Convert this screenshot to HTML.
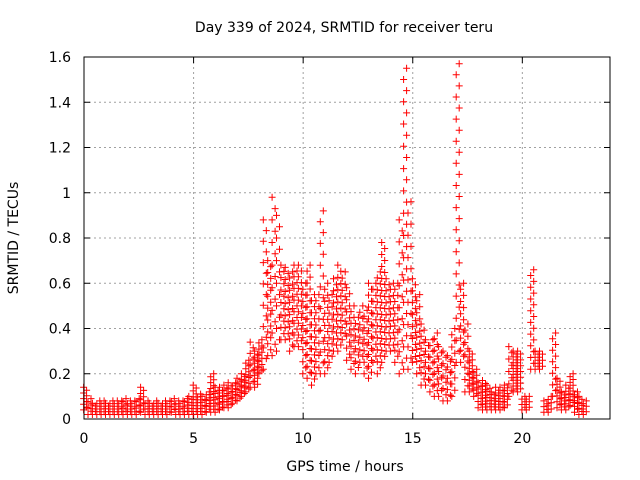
<!DOCTYPE html>
<html><head><meta charset="utf-8"><style>
html,body{margin:0;padding:0;background:#fff;}
svg{display:block;font-family:"DejaVu Sans","Liberation Sans",sans-serif;}
</style></head><body>
<svg id="chart" width="640" height="480">
<rect width="640" height="480" fill="#fff"/>
<text x="344" y="32" font-size="14" text-anchor="middle">Day 339 of 2024, SRMTID for receiver teru</text>
<text x="345" y="471" font-size="14" text-anchor="middle">GPS time / hours</text>
<text transform="translate(18,238) rotate(-90)" font-size="14" text-anchor="middle">SRMTID / TECUs</text>
<g id="grid"></g>
<g id="ticks"></g>
<path id="marks" fill="none" stroke="#ff0000" stroke-width="1"/>
<rect x="84" y="57" width="526" height="362" fill="none" stroke="#000" stroke-width="1"/>
</svg>
<script>
const times = [0,0.2,0.4,0.6,0.8,1.0,1.2,1.4,1.6,1.8,2.0,2.2,2.4,2.6,2.8,3.0,3.2,3.4,3.6,3.8,4.0,4.2,4.4,4.6,4.8,5.0,5.2,5.4,5.6,5.8,6.0,6.2,6.4,6.6,6.8,7.0,7.2,7.4,7.6,7.8,8.0,8.2,8.4,8.6,8.8,9.0,9.2,9.4,9.6,9.8,10.0,10.2,10.4,10.6,10.8,11.0,11.2,11.4,11.6,11.8,12.0,12.2,12.4,12.6,12.8,13.0,13.2,13.4,13.6,13.8,14.0,14.2,14.4,14.6,14.8,15.0,15.2,15.4,15.6,15.8,16.0,16.2,16.4,16.6,16.8,17.0,17.2,17.4,17.6,17.8,18.0,18.2,18.4,18.6,18.8,19.0,19.2,19.4,19.6,19.8,20.0,20.2,20.4,20.6,20.8,21.0,21.2,21.4,21.6,21.8,22.0,22.2,22.4,22.6,22.8];
const lowValues = [.04,.02,.02,.02,.02,.02,.02,.02,.02,.02,.02,.02,.02,.03,.02,.02,.02,.02,.02,.02,.03,.02,.02,.02,.02,.02,.02,.02,.03,.03,.03,.04,.05,.05,.07,.08,.1,.12,.14,.14,.2,.22,.28,.28,.3,.35,.35,.3,.32,.32,.2,.18,.15,.2,.2,.2,.25,.3,.3,.35,.26,.22,.2,.25,.2,.18,.25,.2,.25,.3,.3,.25,.2,.22,.22,.25,.2,.15,.15,.12,.1,.1,.08,.08,.1,.25,.25,.12,.12,.1,.05,.04,.04,.04,.04,.04,.05,.1,.12,.12,.04,.04,.22,.22,.22,.03,.03,.1,.05,.04,.04,.06,.03,.02,.02];
const highValues = [.14,.09,.07,.08,.08,.07,.08,.08,.08,.09,.08,.08,.09,.14,.08,.07,.08,.07,.08,.08,.09,.08,.08,.09,.1,.15,.11,.1,.12,.2,.14,.14,.15,.16,.16,.18,.2,.26,.34,.3,.35,.88,.7,.98,.9,.68,.67,.65,.68,.68,.6,.68,.55,.55,.92,.6,.55,.62,.68,.65,.58,.5,.45,.5,.48,.6,.6,.65,.78,.62,.6,.6,.88,1.55,.96,.62,.55,.42,.35,.35,.38,.32,.3,.28,.4,1.57,.6,.42,.3,.22,.16,.17,.15,.12,.14,.14,.15,.32,.3,.3,.1,.1,.66,.3,.3,.08,.1,.38,.18,.12,.15,.2,.12,.1,.08];
const xTicks = [0,5,10,15,20];
const yTicks = [0,0.2,0.4,0.6,0.8,1,1.2,1.4,1.6];
const yTickLabels = ["0","0.2","0.4","0.6","0.8","1","1.2","1.4","1.6"];

const X0=84,X1=610,Y0=419,Y1=57,XMAX=24,YMAX=1.6;
const sx = t => X0 + t/XMAX*(X1-X0);
const sy = v => Y0 - v/YMAX*(Y0-Y1);
const NS="http://www.w3.org/2000/svg";
const grid=document.getElementById('grid'), ticks=document.getElementById('ticks');
function mk(tag,attrs,parent){const e=document.createElementNS(NS,tag);for(const k in attrs)e.setAttribute(k,attrs[k]);parent.appendChild(e);return e;}
yTicks.forEach((v,i)=>{
  const y=sy(v);
  if(v>0&&v<YMAX){const g=mk('line',{x1:X0,x2:X1,y1:y,y2:y,stroke:'#a0a0a0','stroke-dasharray':'2,3'},grid);
  
  }
  mk('line',{x1:X0,x2:X0+6,y1:y,y2:y,stroke:'#000'},ticks);
  mk('line',{x1:X1-6,x2:X1,y1:y,y2:y,stroke:'#000'},ticks);
  const t=mk('text',{x:X0-13,y:y+5,'font-size':14,'text-anchor':'end'},ticks);
  t.textContent=yTickLabels[i];
  
  
});
xTicks.forEach(v=>{
  const x=sx(v);
  if(v>0){const g=mk('line',{x1:x,x2:x,y1:Y0,y2:Y1,stroke:'#a0a0a0','stroke-dasharray':'2,3'},grid);
  
  }
  mk('line',{x1:x,x2:x,y1:Y0,y2:Y0-6,stroke:'#000'},ticks);
  mk('line',{x1:x,x2:x,y1:Y1,y2:Y1+6,stroke:'#000'},ticks);
  const t=mk('text',{x:x,y:Y0+24,'font-size':14,'text-anchor':'middle'},ticks);
  t.textContent=String(v);
  
  
});
let d='';
function cross(x,y){d+=`M${(x-3.5).toFixed(1)} ${y.toFixed(1)}h7M${x.toFixed(1)} ${(y-3.5).toFixed(1)}v7`;}
times.forEach((t,i)=>{
  const lo=lowValues[i], hi=highValues[i];
  const x=sx(t)+1.1;
  const y0=sy(lo), y1=sy(hi);
  const span=y0-y1;
  const step = span>120 ? 11 : (span<45 ? 3 : 6);
  const n=Math.max(1,Math.round(span/step));
  for(let j=0;j<=n;j++) cross(x + ((j%2)?1.5:-1.5), y0-span*j/n);
});
document.getElementById('marks').setAttribute('d',d);
</script>
</body></html>
